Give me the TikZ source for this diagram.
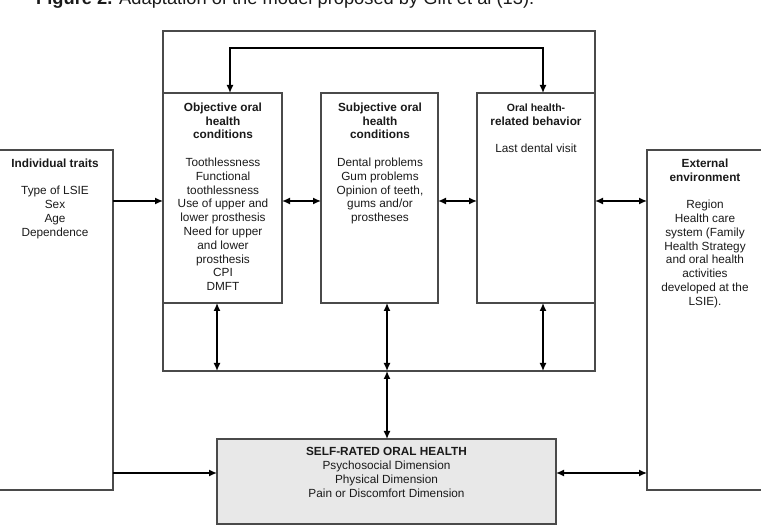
\documentclass[tikz,border=0pt]{standalone}
\usepackage{fontspec}
\setmainfont{Liberation Sans}
\usetikzlibrary{arrows.meta}
\definecolor{boxgray}{HTML}{4A4A4A}
\definecolor{textc}{HTML}{1A1A1A}
\definecolor{srhfill}{HTML}{E8E8E8}
\begin{document}
\begin{tikzpicture}[x=1pt,y=1pt,
  box/.style={draw=boxgray, line width=1.3pt, inner sep=0pt, outer sep=0pt, rectangle},
  txt/.style={align=center, inner sep=0pt, anchor=north, text=textc,
    font=\fontsize{11.8}{13.8}\selectfont},
  arr/.style={draw=black, line width=1.4pt, -{Latex[length=8pt,width=7pt]}},
  dbl/.style={draw=black, line width=1.4pt, {Latex[length=8pt,width=7pt]}-{Latex[length=8pt,width=7pt]}}
]
\path[use as bounding box] (0,0) rectangle (761,528);
\begin{scope}
\clip (0,0) rectangle (761,528);

% caption (cut off at the top edge)
\node[anchor=base west, inner sep=0pt, text=textc, font=\fontsize{18.3}{21}\selectfont] (cap) at (36,523.5)
  {\textbf{Figure 2.} Adaptation of the model proposed by Gift et al (13).};

% boxes
\node[box, minimum width=124pt, minimum height=340pt] (indiv) at (51,208) {};
\node[box, minimum width=124pt, minimum height=340pt] (ext) at (709,208) {};
\node[box, minimum width=432pt, minimum height=340pt] (outer) at (379,327) {};
\node[box, minimum width=119pt, minimum height=210pt] (obj) at (222.5,330) {};
\node[box, minimum width=117pt, minimum height=210pt] (subj) at (379.5,330) {};
\node[box, minimum width=118pt, minimum height=210pt] (beh) at (536,330) {};
\node[box, fill=srhfill, minimum width=339pt, minimum height=85pt] (srh) at (386.5,46.5) {};

% texts
\node[txt] (indivt) at (55,369.5) {\textbf{Individual traits}\\[13.8pt]
  Type of LSIE\\Sex\\Age\\Dependence};
\node[txt] (extt) at (705,369.5) {\textbf{External}\\\textbf{environment}\\[13.8pt]
  Region\\Health care\\system (Family\\Health Strategy\\and oral health\\activities\\developed at the\\LSIE).};
\node[txt] (objt) at (223,425.5) {\textbf{Objective oral}\\\textbf{health}\\\textbf{conditions}\\[13.8pt]
  Toothlessness\\Functional\\toothlessness\\Use of upper and\\lower prosthesis\\Need for upper\\and lower\\prosthesis\\CPI\\DMFT};
\node[txt] (subjt) at (380,425.5) {\textbf{Subjective oral}\\\textbf{health}\\\textbf{conditions}\\[13.8pt]
  Dental problems\\Gum problems\\Opinion of teeth,\\gums and/or\\prostheses};
\node[txt] (beht) at (536,424.5) {{\fontsize{10.5}{13.8}\selectfont\textbf{Oral health-}}\\\textbf{related behavior}\\[13.8pt]
  Last dental visit};
\node[txt] (srht) at (386.5,80.5) {\textbf{SELF-RATED ORAL HEALTH}\\
  Psychosocial Dimension\\Physical Dimension\\Pain or Discomfort Dimension};

% reference coordinates
\coordinate (ymid) at (0,327);
\coordinate (ylow) at (0,55);
\coordinate (tl) at (230,480);
\coordinate (tr) at (543,480);
\coordinate (v1) at (217,0);
\coordinate (v2) at (387,0);
\coordinate (v3) at (543,0);

% connectors
\draw[dbl] (obj.north -| tl) -- (tl) -- (tr) -- (beh.north -| tr);
\draw[arr] (indiv.east |- ymid) -- (outer.west |- ymid);
\draw[dbl] (obj.east |- ymid) -- (subj.west |- ymid);
\draw[dbl] (subj.east |- ymid) -- (beh.west |- ymid);
\draw[dbl] (outer.east |- ymid) -- (ext.west |- ymid);
\draw[dbl] (obj.south -| v1) -- (outer.south -| v1);
\draw[dbl] (subj.south -| v2) -- (outer.south -| v2);
\draw[dbl] (beh.south -| v3) -- (outer.south -| v3);
\draw[dbl] (outer.south -| v2) -- (srh.north -| v2);
\draw[arr] (indiv.east |- ylow) -- (srh.west |- ylow);
\draw[dbl] (srh.east |- ylow) -- (ext.west |- ylow);
\end{scope}
\end{tikzpicture}
\end{document}
